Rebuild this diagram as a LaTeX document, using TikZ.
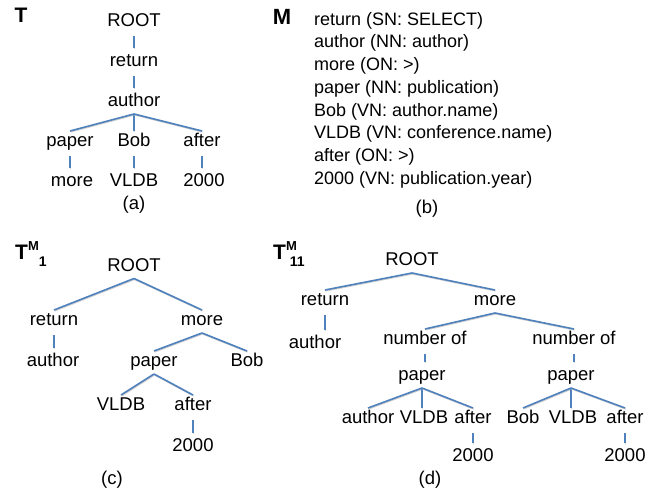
\documentclass[tikz,border=0pt]{standalone}
\usepackage{fontspec}
\setmainfont{Liberation Sans}
\usepackage{tikz}
\usetikzlibrary{positioning}
\usepackage{xcolor}
\definecolor{treeblue}{RGB}{79,129,189}
\tikzset{
word/.style={font=\fontsize{18.5}{20}\selectfont,
  inner sep=0pt,
    outer sep=3pt,
    text height=13pt,
    text depth=4pt},
tag/.style={font=\fontsize{21}{22}\selectfont\bfseries,
  inner sep=0pt, anchor=base},
listing/.style={font=\fontsize{18}{22.7}\selectfont,
  inner sep=0pt, anchor=north west, align=left},
}
\tikzset{branch/.style={treeblue, line width=1.6pt,
  preaction={draw=black!18, line width=1.6pt, transform canvas={shift={(0.6pt,-0.8pt)}}}}}
\tikzset{stem/.style={branch, shorten <=2pt, shorten >=3pt}}

\begin{document}
\begin{tikzpicture}[x=1pt,y=-1pt]
    \useasboundingbox (0,0) rectangle (662,494);

    % (a) the parse tree
    \node [tag] (ta) at (21,23) {T};
    \node [word] (aroot) at (134,22.5) {ROOT};
    \node [word] (aret) at (134,62.5) {return};
    \node [word] (aauth) at (134,102.5) {author};
    \node [word] (apaper) at (70,142.5) {paper};
    \node [word] (abob) at (134,142.5) {Bob};
    \node [word] (aafter) at (202,142.5) {after};
    \node [word] (amore) at (72,182.5) {more};
    \node [word] (avldb) at (134,182.5) {VLDB};
    \node [word] (ayear) at (204,182.5) {2000};
    \node [word] (capa) at (134,205) {(a)};

  \draw [stem] (aroot.south) -- (aret.north);
  \draw [stem] (aret.south) -- (aauth.north);
  \draw [branch] (aauth.south) -- (apaper.north);
  \draw [branch] (aauth.south) -- (abob.north);
  \draw [branch] (aauth.south) -- (aafter.north);
  \draw [stem] (apaper.south) -- (apaper.south |- amore.north);
  \draw [stem] (abob.south) -- (avldb.north);
  \draw [stem] (aafter.south) -- (aafter.south |- ayear.north);

    % (b) the node mapping
    \node [tag, font=\fontsize{22}{22}\selectfont\bfseries] (tm) at (282,25) {M};
    \node [listing] (mlist) at (314,12) {return (SN: SELECT)\\author (NN: author)\\more (ON: >)\\paper (NN: publication)\\Bob (VN: author.name)\\VLDB (VN: conference.name)\\after (ON: >)\\2000 (VN: publication.year)};
    \node [word] (capb) at (427,209) {(b)};

    % (c) first adjusted tree
    \node [tag, anchor=base west] (tc) at (15,260) {T\raisebox{9.5pt}{\fontsize{13}{13}\selectfont M}\raisebox{-7pt}{\fontsize{14}{14}\selectfont 1}};
    \node [word] (croot) at (134,267) {ROOT};
    \node [word] (cret) at (54,321.5) {return};
    \node [word] (cmore) at (202,321.5) {more};
    \node [word] (cauth) at (53,362.5) {author};
    \node [word] (cpaper) at (154,362.5) {paper};
    \node [word] (cbob) at (247,362.5) {Bob};
    \node [word] (cvldb) at (121,406.5) {VLDB};
    \node [word] (cafter) at (193,406.5) {after};
    \node [word] (cyear) at (193,447.5) {2000};
    \node [word] (capc) at (112,480) {(c)};

  \draw [branch] (croot.south) -- (cret.north);
  \draw [branch] (croot.south) -- (cmore.north);
  \draw [stem] (cret.south) -- (cret.south |- cauth.north);
  \draw [branch] (cmore.south) -- (cpaper.north);
  \draw [branch] (cmore.south) -- (cbob.north);
  \draw [branch] (cpaper.south) -- (cvldb.north);
  \draw [branch] (cpaper.south) -- (cafter.north);
  \draw [stem] (cafter.south) -- (cyear.north);

    % (d) second adjusted tree
    \node [tag, anchor=base west] (td) at (273,260) {T\raisebox{9.5pt}{\fontsize{13}{13}\selectfont M}\hspace{-7pt}\raisebox{-7pt}{\fontsize{14}{14}\selectfont 11}};
    \node [word] (droot) at (412,261.5) {ROOT};
    \node [word] (dret) at (325,301.5) {return};
    \node [word] (dauth) at (315,344.5) {author};
    \node [word] (dmore) at (495,301.5) {more};
    \node [word] (dnuml) at (425,340.5) {number of};
    \node [word] (dnumr) at (574,340.5) {number of};
    \node [word] (dpapl) at (422,376.5) {paper};
    \node [word] (dpapr) at (571,376.5) {paper};
    \node [word] (dauthl) at (368,419.5) {author};
    \node [word] (dvldbl) at (424,419.5) {VLDB};
    \node [word] (dafterl) at (473,419.5) {after};
    \node [word] (dbobr) at (523,419.5) {Bob};
    \node [word] (dvldbr) at (573,419.5) {VLDB};
    \node [word] (dafterr) at (625,419.5) {after};
    \node [word] (dyearl) at (473,457.5) {2000};
    \node [word] (dyearr) at (625,457.5) {2000};
    \node [word] (capd) at (430,480) {(d)};

  \draw [branch] (droot.south) -- (dret.north);
  \draw [branch] (droot.south) -- (dmore.north);
  \draw [stem] (dret.south) -- (dret.south |- dauth.north);
  \draw [branch] (dmore.south) -- (dnuml.north);
  \draw [branch] (dmore.south) -- (dnumr.north);
  \draw [stem] (dnuml.south) -- (dnuml.south |- dpapl.north);
  \draw [stem] (dnumr.south) -- (dnumr.south |- dpapr.north);
  \draw [branch] (dpapl.south) -- (dauthl.north);
  \draw [branch] (dpapl.south) -- (dpapl.south |- dvldbl.north);
  \draw [branch] (dpapl.south) -- (dafterl.north);
  \draw [branch] (dpapr.south) -- (dbobr.north);
  \draw [branch] (dpapr.south) -- (dpapr.south |- dvldbr.north);
  \draw [branch] (dpapr.south) -- (dafterr.north);
  \draw [stem] (dafterl.south) -- (dyearl.north);
  \draw [stem] (dafterr.south) -- (dyearr.north);
  \end{tikzpicture}
\end{document}
